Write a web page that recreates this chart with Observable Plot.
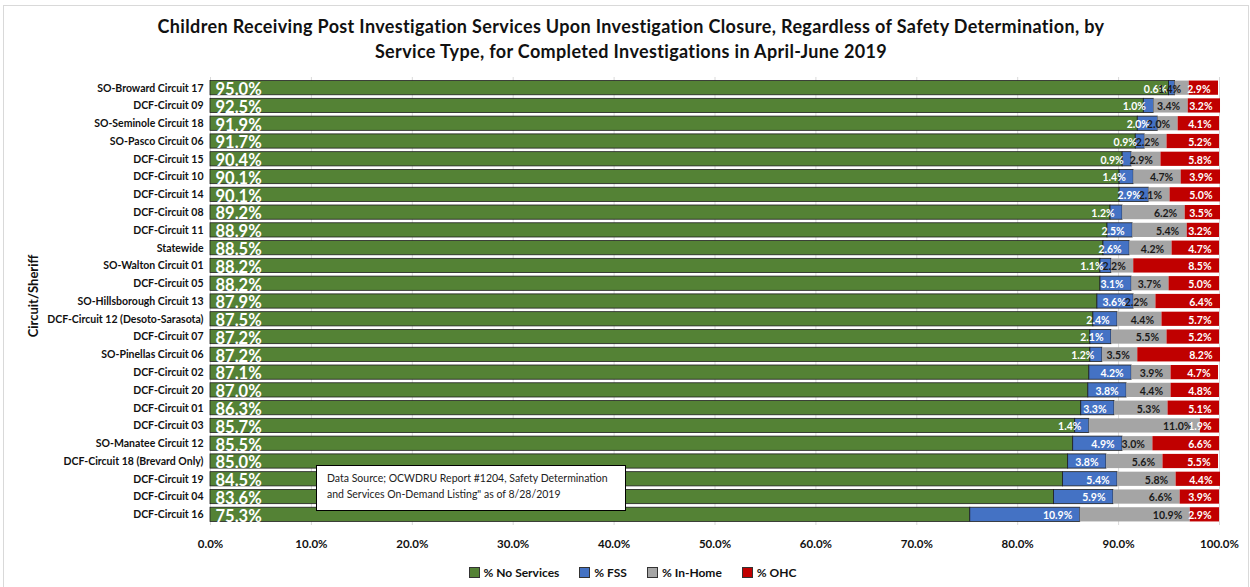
<!DOCTYPE html>
<html>
<head>
<meta charset="utf-8">
<script src="https://cdn.jsdelivr.net/npm/d3@7"></script>
<script src="https://cdn.jsdelivr.net/npm/@observablehq/plot@0.6"></script>
<style>
  html, body { margin: 0; padding: 0; background: #fff; }
  #wrap { position: relative; width: 1250px; height: 587px; overflow: hidden;
          font-family: Lato, 'Open Sans', sans-serif; }
  #frame { position: absolute; left: 3px; top: 5px; width: 1244px; height: 600px;
           border-top: 1px solid #d9d9d9; border-left: 1px solid #d9d9d9; border-right: 1px solid #d9d9d9; }
  #title { position: absolute; left: 0; top: 14px; width: 1262px; text-align: center;
           font-weight: bold; font-size: 18px; letter-spacing: 0.35px; line-height: 25px; color: #111; }
  #chart { position: absolute; left: 0; top: 75px; }
  #ytitle { position: absolute; left: 33px; top: 296px; transform: translate(-50%, -50%) rotate(-90deg);
            font-weight: bold; font-size: 13px; white-space: nowrap; color: #111; }
  #legend { position: absolute; left: 0; top: 565px; width: 1265px; display: flex; justify-content: center; gap: 20px;
            font-weight: bold; font-size: 12px; color: #111; }
  #legend span.sw { display: inline-block; width: 9px; height: 9px; border: 1px solid #333; margin-right: 4px; vertical-align: -1px; }
  #note { position: absolute; left: 316px; top: 465px; width: 292px; height: 36px; padding: 4px 6px 4px 10px;
          border: 1px solid #000; background: #fff; font-size: 10.5px; line-height: 16px; color: #222; white-space: nowrap; }
</style>
</head>
<body>
<div id="wrap">
  <div id="frame"></div>
  <div id="title">Children Receiving Post Investigation Services Upon Investigation Closure, Regardless of Safety Determination, by<br>Service Type, for Completed Investigations in April-June 2019</div>
  <div id="chart"></div>
  <div id="ytitle">Circuit/Sheriff</div>
  <div id="legend"></div>
  <div id="note">Data Source; OCWDRU Report #1204, Safety Determination<br>and Services On-Demand Listing" as of 8/28/2019</div>
</div>
<script>
const categories = [
  "SO-Broward Circuit 17", "DCF-Circuit 09", "SO-Seminole Circuit 18", "SO-Pasco Circuit 06",
  "DCF-Circuit 15", "DCF-Circuit 10", "DCF-Circuit 14", "DCF-Circuit 08", "DCF-Circuit 11",
  "Statewide", "SO-Walton Circuit 01", "DCF-Circuit 05", "SO-Hillsborough Circuit 13",
  "DCF-Circuit 12 (Desoto-Sarasota)", "DCF-Circuit 07", "SO-Pinellas Circuit 06", "DCF-Circuit 02",
  "DCF-Circuit 20", "DCF-Circuit 01", "DCF-Circuit 03", "SO-Manatee Circuit 12",
  "DCF-Circuit 18 (Brevard Only)", "DCF-Circuit 19", "DCF-Circuit 04", "DCF-Circuit 16"
];
const noServices = [95.0, 92.5, 91.9, 91.7, 90.4, 90.1, 90.1, 89.2, 88.9, 88.5, 88.2, 88.2, 87.9, 87.5, 87.2, 87.2, 87.1, 87.0, 86.3, 85.7, 85.5, 85.0, 84.5, 83.6, 75.3];
const fss        = [0.6, 1.0, 2.0, 0.9, 0.9, 1.4, 2.9, 1.2, 2.5, 2.6, 1.1, 3.1, 3.6, 2.4, 2.1, 1.2, 4.2, 3.8, 3.3, 1.4, 4.9, 3.8, 5.4, 5.9, 10.9];
const inHome     = [1.4, 3.4, 2.0, 2.2, 2.9, 4.7, 2.1, 6.2, 5.4, 4.2, 2.2, 3.7, 2.2, 4.4, 5.5, 3.5, 3.9, 4.4, 5.3, 11.0, 3.0, 5.6, 5.8, 6.6, 10.9];
const ohc        = [2.9, 3.2, 4.1, 5.2, 5.8, 3.9, 5.0, 3.5, 3.2, 4.7, 8.5, 5.0, 6.4, 5.7, 5.2, 8.2, 4.7, 4.8, 5.1, 1.9, 6.6, 5.5, 4.4, 3.9, 2.9];
const seriesNames = ["% No Services", "% FSS", "% In-Home", "% OHC"];
const seriesColors = ["#548235", "#4472C4", "#A5A5A5", "#C00000"];
const xTicks = [0, 10, 20, 30, 40, 50, 60, 70, 80, 90, 100];

const seriesValues = [noServices, fss, inHome, ohc];
const data = [];
categories.forEach((c, i) => {
  seriesNames.forEach((s, j) => {
    data.push({name: c, series: s, value: seriesValues[j][i]});
  });
});
const fmt = v => v.toFixed(1) + "%";
const font = "Lato, 'Open Sans', sans-serif";

const chart = Plot.plot({
  width: 1250,
  height: 478,
  marginLeft: 210,
  marginRight: 31,
  marginTop: 2,
  marginBottom: 28,
  style: {fontFamily: font, background: "transparent", overflow: "visible"},
  x: {domain: [0, 100], ticks: xTicks, tickFormat: fmt, label: null},
  y: {domain: categories, padding: 0.2, round: false, label: null},
  color: {domain: seriesNames, range: seriesColors},
  marks: [
    Plot.gridX(xTicks, {stroke: "#d9d9d9", strokeOpacity: 1}),
    Plot.barX(data, Plot.stackX({
      x: "value", y: "name", z: "series", fill: "series",
      stroke: d => (d.series === "% No Services" || d.series === "% FSS") ? "#1e1e1e" : "none",
      strokeWidth: 0.8
    })),
    Plot.text(data.filter(d => d.series === "% No Services"), {
      x: 0, y: "name", text: d => fmt(d.value), textAnchor: "start", dx: 5, dy: 1.5,
      fill: "white", fontWeight: "bold", fontSize: 16.5
    }),
    Plot.text(data, Plot.stackX2({
      x: "value", y: "name", z: "series",
      text: d => d.series === "% No Services" ? "" : fmt(d.value),
      textAnchor: "end", dx: -8, dy: 1,
      fill: d => d.series === "% In-Home" ? "#1a1a1a" : "white",
      fontWeight: "bold", fontSize: 10.5
    })),
    Plot.axisX({ticks: xTicks, tickFormat: fmt, tickSize: 0, tickPadding: 14, fontSize: 11.5, fontWeight: "bold", fill: "#111", label: null}),
    Plot.axisY({tickSize: 0, tickPadding: 7, fontSize: 10.5, fontWeight: "bold", fill: "#111", label: null})
  ]
});
document.getElementById("chart").appendChild(chart);

const legend = document.getElementById("legend");
seriesNames.forEach((s, j) => {
  const item = document.createElement("div");
  item.innerHTML = `<span class="sw" style="background:${seriesColors[j]}"></span>${s}`;
  legend.appendChild(item);
});
</script>
</body>
</html>
